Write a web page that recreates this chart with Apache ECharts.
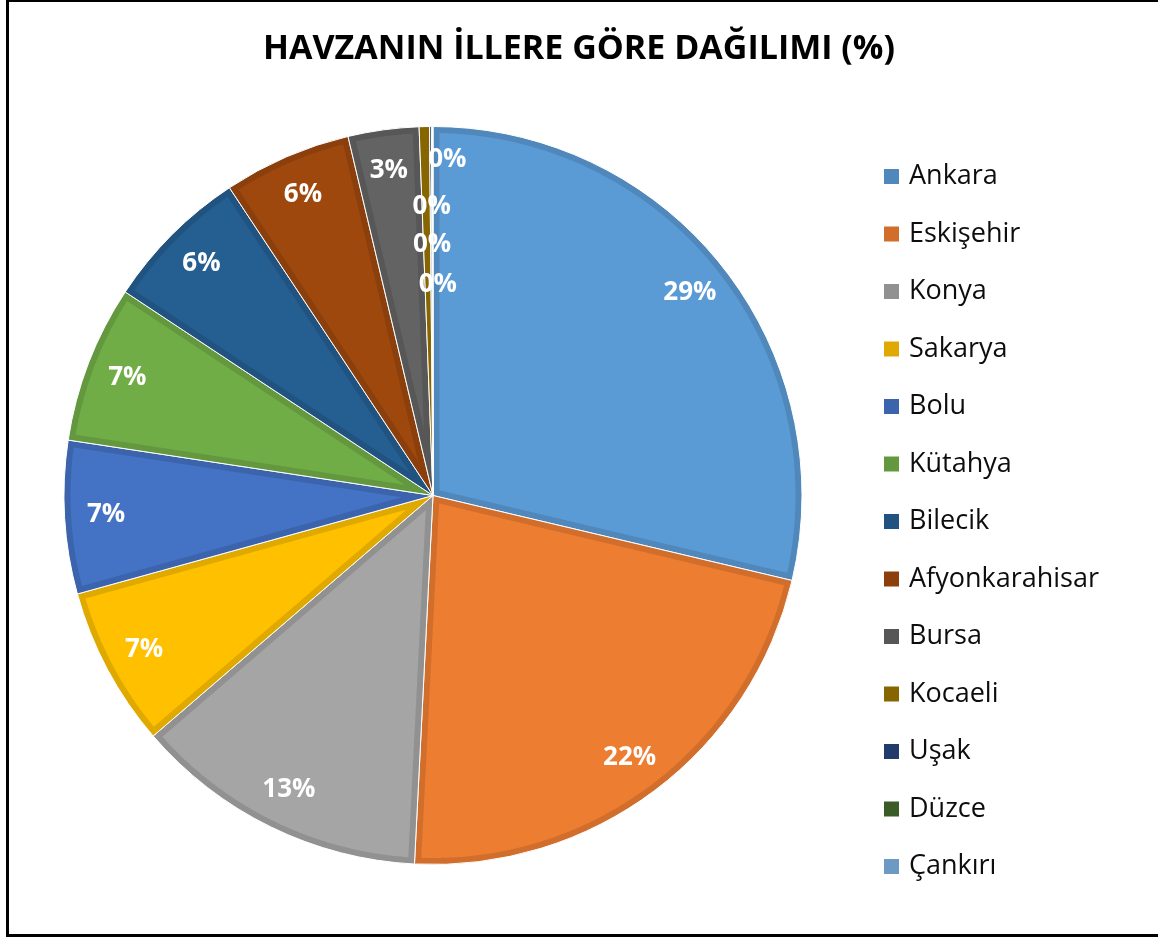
<!DOCTYPE html>
<html>
<head>
<meta charset="utf-8">
<script src="https://cdn.jsdelivr.net/npm/echarts@6/dist/echarts.min.js"></script>
<style>
  html, body { margin: 0; padding: 0; background: #fff; }
  #chart { width: 1158px; height: 938px; }
</style>
</head>
<body>
<div id="chart"></div>
<script>
// ---- data ----
const cities = ['Ankara', 'Eskişehir', 'Konya', 'Sakarya', 'Bolu', 'Kütahya', 'Bilecik',
  'Afyonkarahisar', 'Bursa', 'Kocaeli', 'Uşak', 'Düzce', 'Çankırı'];
const shares = [28.7, 22.1, 12.9, 7.0, 6.7, 6.9, 6.4, 5.6, 3.1, 0.45, 0.08, 0.05, 0.02];
const titleText = 'HAVZANIN İLLERE GÖRE DAĞILIMI (%)';

// ---- styles ----
const fillColors = ['#5B9BD5', '#ED7D31', '#A5A5A5', '#FFC000', '#4472C4', '#70AD47', '#255E91',
  '#9E480E', '#636363', '#997300', '#264478', '#43682B', '#7CAFDD'];
const edgeColors = ['#5088BB', '#D16E2B', '#919191', '#E0A900', '#3C64AC', '#63983E', '#215380',
  '#8B3F0C', '#575757', '#876500', '#213C6A', '#3B5C26', '#6D9AC2'];
// label nudges for the crowded tiny slices (layout only)
const labelNudge = { 9: [22, -8], 10: [1, 39], 11: [0, 77], 12: [5, 117] };

const R = 369;
const CENTER = [433, 495.5];
const INSET = 6.5;
const FONT = 'Open Sans';

const chart = echarts.init(document.getElementById('chart'), null, { renderer: 'canvas' });

const total = shares.reduce((a, b) => a + b, 0);
const edgeData = cities.map((c, i) => ({ name: c, value: shares[i], itemStyle: { color: edgeColors[i] } }));
const labelData = cities.map((c, i) => ({ name: c, value: shares[i] }));

// inner (lighter) face of each slice, inset from the slice edges
function renderFace(params, api) {
  const i = params.dataIndex;
  let before = 0;
  for (let k = 0; k < i; k++) before += shares[k];
  const a1 = before / total * Math.PI * 2;
  const a2 = (before + shares[i]) / total * Math.PI * 2;
  const half = (a2 - a1) / 2;
  const rho = R - INSET;
  const off = Math.asin(INSET / rho);
  if (half <= off + 0.002) return null;
  const apexDist = INSET / Math.sin(half);
  if (apexDist >= rho - 2) return null;
  const mid = (a1 + a2) / 2;
  const pt = (r, a) => [CENTER[0] + r * Math.sin(a), CENTER[1] - r * Math.cos(a)];
  const pts = [pt(apexDist, mid)];
  const s = a1 + off, e = a2 - off;
  const steps = Math.max(4, Math.ceil((e - s) / 0.01));
  for (let k = 0; k <= steps; k++) pts.push(pt(rho, s + (e - s) * k / steps));
  return {
    type: 'polygon',
    shape: { points: pts },
    style: { fill: fillColors[i], stroke: null }
  };
}

chart.setOption({
  animation: false,
  backgroundColor: '#fff',
  title: {
    text: titleText,
    left: 'center',
    top: 21,
    textStyle: { fontFamily: FONT, fontWeight: 'bold', fontSize: 34, color: '#000', lineHeight: 46 }
  },
  legend: {
    orient: 'vertical',
    left: 877,
    top: 158,
    data: cities,
    icon: 'rect',
    itemWidth: 17,
    itemHeight: 17,
    itemGap: 30.5,
    selectedMode: false,
    textStyle: { fontFamily: FONT, fontSize: 27, color: '#0d0d0d', lineHeight: 27, padding: [0, 0, 0, 4] }
  },
  graphic: [{
    type: 'rect',
    silent: true,
    z: 100,
    shape: { x: 7.5, y: 0.5, width: 1200, height: 935 },
    style: { fill: 'none', stroke: '#000', lineWidth: 3 }
  }],
  series: [
    {
      type: 'pie',
      name: 'edge',
      center: CENTER,
      radius: [0, R],
      startAngle: 90,
      clockwise: true,
      silent: true,
      label: { show: false },
      labelLine: { show: false },
      itemStyle: { borderColor: '#ffffff', borderWidth: 1 },
      data: edgeData,
      z: 1
    },
    {
      type: 'custom',
      name: 'face',
      coordinateSystem: 'none',
      silent: true,
      renderItem: renderFace,
      data: shares,
      z: 2
    },
    {
      type: 'pie',
      name: 'labels',
      center: CENTER,
      radius: [Math.round(R * 0.76), R],
      startAngle: 90,
      clockwise: true,
      silent: true,
      itemStyle: { color: 'rgba(0,0,0,0)' },
      labelLine: { show: false },
      label: {
        show: true,
        position: 'inside',
        color: '#ffffff',
        fontFamily: FONT,
        fontWeight: 'bold',
        fontSize: 26,
        formatter: p => Math.round(p.value / total * 100) + '%'
      },
      labelLayout: function (params) {
        const n = labelNudge[params.dataIndex];
        return n ? { dx: n[0], dy: n[1] } : {};
      },
      data: labelData,
      z: 3
    }
  ]
});
</script>
</body>
</html>
